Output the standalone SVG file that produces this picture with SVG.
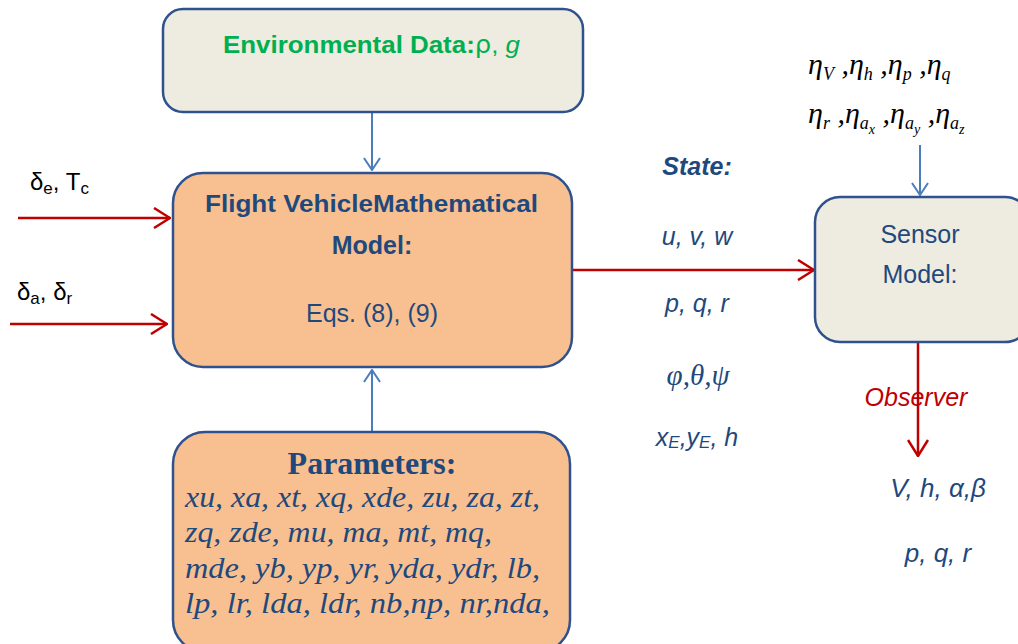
<svg xmlns="http://www.w3.org/2000/svg" width="1018" height="644" viewBox="0 0 1018 644">
<style>
.box{stroke:#2F528F;stroke-width:2.5}
.env{fill:#EEEBE0}
.org{fill:#F8C090}
.sans{font-family:"Liberation Sans","Open Sans",sans-serif}
.serif{font-family:"Liberation Serif","DejaVu Serif",serif}
.blue{fill:#1F497D}
.red-ln{stroke:#C00000;stroke-width:2.5;fill:none}
.blue-ln{stroke:#4A7EBB;stroke-width:2;fill:none}
</style>
<defs>
<marker id="ra" viewBox="0 0 18 22" refX="17" refY="11" markerWidth="18" markerHeight="22" markerUnits="userSpaceOnUse" orient="auto"><path d="M1,1 L17,11 L1,21" fill="none" stroke="#C00000" stroke-width="2.5"/></marker>
<marker id="ba" viewBox="0 0 14 18" refX="13" refY="9" markerWidth="14" markerHeight="18" markerUnits="userSpaceOnUse" orient="auto"><path d="M1,1 L13,9 L1,17" fill="none" stroke="#4A7EBB" stroke-width="2"/></marker>
</defs>
<rect width="1018" height="644" fill="#fff"/>
<g id="connectors">
<line class="blue-ln" x1="372" y1="112" x2="372" y2="170" marker-end="url(#ba)"/>
<line class="blue-ln" x1="372" y1="431" x2="372" y2="370" marker-end="url(#ba)"/>
<line class="blue-ln" x1="920" y1="145" x2="920" y2="195" marker-end="url(#ba)"/>
<line class="red-ln" x1="18" y1="218" x2="170" y2="218" marker-end="url(#ra)"/>
<line class="red-ln" x1="10" y1="324" x2="167" y2="324" marker-end="url(#ra)"/>
<line class="red-ln" x1="572" y1="270" x2="814" y2="270" marker-end="url(#ra)"/>
<line class="red-ln" x1="918" y1="342" x2="918" y2="456" marker-end="url(#ra)"/>
</g>
<g id="env">
<rect class="box env" x="163" y="9" width="420" height="103" rx="20"/>
<text x="223" y="53" class="sans" font-size="24" fill="#00B050" textLength="297" lengthAdjust="spacingAndGlyphs"><tspan font-weight="bold">Environmental Data:</tspan><tspan font-family="DejaVu Sans">ρ</tspan>, <tspan font-style="italic">g</tspan></text>
</g>
<g id="model">
<rect class="box org" x="173" y="173" width="399" height="194" rx="30"/>
<text x="205" y="212" class="sans blue" font-size="24" font-weight="bold" textLength="333" lengthAdjust="spacingAndGlyphs">Flight VehicleMathematical</text>
<text x="372" y="254" text-anchor="middle" class="sans blue" font-size="25" font-weight="bold">Model:</text>
<text x="372" y="322" text-anchor="middle" class="sans blue" font-size="25">Eqs. (8), (9)</text>
</g>
<g id="params">
<rect class="box org" x="173" y="432" width="397" height="220" rx="32"/>
<text x="372" y="474" text-anchor="middle" class="serif blue" font-size="32" font-weight="bold">Parameters:</text>
<g class="serif blue" font-size="30" font-style="italic">
<text x="185" y="507" textLength="355" lengthAdjust="spacingAndGlyphs">xu, xa, xt, xq, xde, zu, za, zt,</text>
<text x="185" y="542" textLength="307" lengthAdjust="spacingAndGlyphs">zq, zde, mu, ma, mt, mq,</text>
<text x="185" y="578" textLength="355" lengthAdjust="spacingAndGlyphs">mde, yb, yp, yr, yda, ydr, lb,</text>
<text x="185" y="613" textLength="365" lengthAdjust="spacingAndGlyphs">lp, lr, lda, ldr, nb,np, nr,nda,</text>
</g>
</g>
<g id="sensor">
<rect class="box env" x="815" y="197" width="215" height="145" rx="25"/>
<text x="920" y="243" text-anchor="middle" class="sans blue" font-size="25">Sensor</text>
<text x="920" y="283" text-anchor="middle" class="sans blue" font-size="25">Model:</text>
</g>
<g id="inputs" class="sans" font-size="24" fill="#000">
<text x="30" y="190">δ<tspan font-size="17" dy="4">e</tspan><tspan dy="-4">, T</tspan><tspan font-size="17" dy="4">c</tspan></text>
<text x="17" y="300">δ<tspan font-size="17" dy="4">a</tspan><tspan dy="-4">, δ</tspan><tspan font-size="17" dy="4">r</tspan></text>
</g>
<g id="state" class="sans blue" font-style="italic" font-size="25" text-anchor="middle">
<text x="697" y="175" font-weight="bold" font-size="25">State:</text>
<text x="697" y="245">u, v, w</text>
<text x="697" y="312">p, q, r</text>
<text x="698" y="385" class="serif" font-size="29">φ,θ,ψ</text>
<text x="697" y="446">x<tspan font-size="17" dy="2">E</tspan><tspan dy="-2">,y</tspan><tspan font-size="17" dy="2">E</tspan><tspan dy="-2">, h</tspan></text>
</g>
<g id="noise" class="serif" font-style="italic" font-size="30" fill="#000">
<text x="808" y="74">η<tspan font-size="18" dy="6">V</tspan><tspan dy="-6"> ,η</tspan><tspan font-size="18" dy="6">h</tspan><tspan dy="-6"> ,η</tspan><tspan font-size="18" dy="6">p</tspan><tspan dy="-6"> ,η</tspan><tspan font-size="18" dy="6">q</tspan></text>
<text x="808" y="123">η<tspan font-size="18" dy="6">r</tspan><tspan dy="-6"> ,η</tspan><tspan font-size="18" dy="6">a</tspan><tspan font-size="14" dy="5">x</tspan><tspan dy="-11"> ,η</tspan><tspan font-size="18" dy="6">a</tspan><tspan font-size="14" dy="5">y</tspan><tspan dy="-11"> ,η</tspan><tspan font-size="18" dy="6">a</tspan><tspan font-size="14" dy="5">z</tspan></text>
</g>
<g id="observer" class="sans" font-style="italic" font-size="25" text-anchor="middle">
<text x="916" y="406" fill="#C00000">Observer</text>
<text x="938" y="497" class="blue" font-size="26">V, h, α,β</text>
<text x="938" y="562" class="blue" font-size="26">p, q, r</text>
</g>
</svg>
